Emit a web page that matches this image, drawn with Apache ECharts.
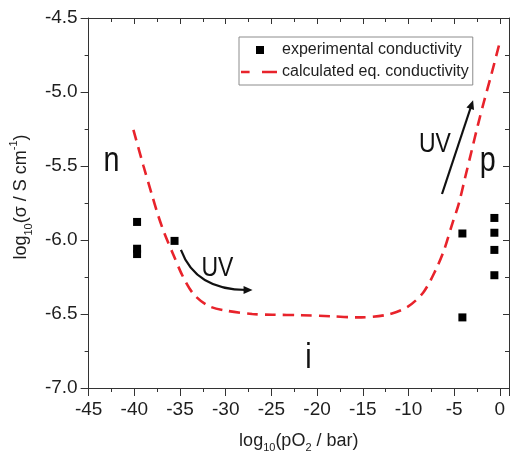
<!DOCTYPE html>
<html>
<head>
<meta charset="utf-8">
<script src="https://cdn.jsdelivr.net/npm/echarts@6/dist/echarts.min.js"></script>
<style>
  html, body { margin: 0; padding: 0; background: #fff; }
  #chart { width: 512px; height: 458px; }
</style>
</head>
<body>
<div id="chart"></div>
<script>
// Axis ranges and ticks
const xMin = -45, xMax = 1, xStep = 5;
const yMin = -7, yMax = -4.5, yStep = 0.5;

// Measured conductivity: log10(pO2 / bar) and log10(sigma / S cm^-1)
const expX = [-39.7, -39.7, -39.7, -35.6, -4.1, -4.1, -0.6, -0.6, -0.6, -0.6];
const expY = [-5.878, -6.059, -6.095, -6.006, -5.956, -6.523, -5.851, -5.951, -6.067, -6.238];

// Calculated equilibrium conductivity
const calcX = [-40.1, -39.0, -38.1, -37.4, -36.7, -35.8, -34.7, -33.5, -31.9, -29.9, -27.1, -24.9,
               -21.7, -18.5, -15.6, -12.5, -10.2, -8.4, -7.0, -6.1, -5.2, -4.5, -3.8, -3.1,
               -2.4, -1.7, -0.96, -0.07];
const calcY = [-5.256, -5.50, -5.689, -5.833, -5.956, -6.089, -6.245, -6.367, -6.445, -6.478, -6.50, -6.505,
               -6.508, -6.515, -6.523, -6.507, -6.456, -6.356, -6.2, -6.067, -5.889, -5.756, -5.578, -5.4,
               -5.222, -5.056, -4.889, -4.678];

const seriesNames = ['experimental conductivity', 'calculated eq. conductivity'];

// Region labels (n, i, p) and UV arrows, in data coordinates
const regionLabels = [
  { text: 'n', x: -42.5, y: -5.47, size: 35 },
  { text: 'p', x: -1.32, y: -5.47, size: 35 },
  { text: 'i', x: -20.95, y: -6.80, size: 35 },
  { text: 'UV', x: -30.9, y: -6.19, size: 28 },
  { text: 'UV', x: -7.11, y: -5.355, size: 28 }
];
// curved arrow: start, control, end
const uvCurve = [[-34.9, -6.067], [-33.28, -6.338], [-27.06, -6.338]];
// straight arrow: start, end
const uvLine = [[-6.33, -5.689], [-2.93, -5.056]];

const FONT = "'Liberation Sans', Arial, sans-serif";
const INK = '#1e1e1e';
const AXIS = '#333';
const RED = '#e8232b';

// legend glyphs: a small square and a two-dash stroke inside a 36x9 box
const ICON_SQUARE = 'path://M0,0L0.001,0M36,9L35.999,9M15,0.5h8v8h-8z';
const ICON_DASH = 'path://M0,0L0.001,0M36,9L35.999,9M0,3.25h8.6v2.6H0zM21,3.25h15v2.6H21z';

const chart = echarts.init(document.getElementById('chart'), null, { renderer: 'canvas' });

const baseX = {
  type: 'value', min: xMin, max: xMax, interval: xStep,
  splitLine: { show: false },
  axisLine: { show: true, onZero: false, lineStyle: { color: AXIS, width: 1 } },
  minorTick: { show: true, splitNumber: 2, length: 4, lineStyle: { color: AXIS } }
};
const baseY = {
  type: 'value', min: yMin, max: yMax, interval: yStep,
  splitLine: { show: false },
  axisLine: { show: true, onZero: false, lineStyle: { color: AXIS, width: 1 } },
  minorTick: { show: true, splitNumber: 2, length: 4, lineStyle: { color: AXIS } }
};

const option = {
  animation: false,
  backgroundColor: '#fff',
  grid: { left: 83, right: 1, top: 18, bottom: 65 },
  xAxis: [
    Object.assign({}, baseX, {
      position: 'bottom',
      axisTick: { show: true, length: 8, lineStyle: { color: AXIS } },
      axisLabel: {
        show: true, margin: 12, color: INK, fontFamily: FONT, fontSize: 19,
        formatter: v => (Math.abs(v % xStep) < 1e-9 ? String(v) : '')
      },
      name: '{m|log}{s|10}{m|(pO}{s|2}{m| / bar)}',
      nameLocation: 'middle', nameGap: 41,
      nameTextStyle: {
        rich: {
          m: { fontFamily: FONT, fontSize: 18, color: INK, lineHeight: 24, verticalAlign: 'middle' },
          s: { fontFamily: FONT, fontSize: 11, color: INK, lineHeight: 24, verticalAlign: 'bottom' }
        }
      }
    }),
    Object.assign({}, baseX, {
      position: 'top',
      axisTick: { show: true, inside: true, length: 6, lineStyle: { color: AXIS } },
      axisLabel: { show: false }
    })
  ],
  yAxis: [
    Object.assign({}, baseY, {
      position: 'left',
      axisTick: { show: true, length: 8, lineStyle: { color: AXIS } },
      axisLabel: {
        show: true, margin: 11, color: INK, fontFamily: FONT, fontSize: 19,
        formatter: v => v.toFixed(1)
      },
      name: '{m|log}{s|10}{m|(σ / S cm}{u|-1}{m|)}',
      nameLocation: 'middle', nameGap: 50, nameRotate: 90,
      nameTextStyle: {
        padding: [0, 0, 0, 12],
        rich: {
          m: { fontFamily: FONT, fontSize: 18, color: INK, lineHeight: 26, verticalAlign: 'middle' },
          s: { fontFamily: FONT, fontSize: 11, color: INK, lineHeight: 26, verticalAlign: 'bottom' },
          u: { fontFamily: FONT, fontSize: 11, color: INK, lineHeight: 26, verticalAlign: 'top' }
        }
      }
    }),
    Object.assign({}, baseY, {
      position: 'right',
      axisTick: { show: true, inside: true, length: 6, lineStyle: { color: AXIS } },
      axisLabel: { show: false }
    })
  ],
  legend: {
    orient: 'vertical',
    left: 239, top: 37,
    padding: [5, 4, 5, 2],
    itemGap: 6,
    itemWidth: 36, itemHeight: 9,
    borderColor: '#8c8c8c', borderWidth: 1,
    backgroundColor: '#fff',
    textStyle: { fontFamily: FONT, fontSize: 16, color: INK },
    data: [
      { name: seriesNames[0], icon: ICON_SQUARE, itemStyle: { color: '#000', opacity: 1 } },
      { name: seriesNames[1], icon: ICON_DASH, itemStyle: { color: RED, opacity: 1 } }
    ]
  },
  series: [
    {
      name: seriesNames[0],
      type: 'scatter',
      symbol: 'rect', symbolSize: 8,
      itemStyle: { color: '#000', opacity: 1 },
      z: 3,
      data: expX.map((x, i) => [x, expY[i]])
    },
    {
      name: seriesNames[1],
      type: 'line',
      showSymbol: false, symbol: 'none',
      smooth: 0.3,
      lineStyle: { color: RED, width: 2.6, type: [11, 7] },
      itemStyle: { color: RED },
      z: 2,
      data: calcX.map((x, i) => [x, calcY[i]])
    }
  ]
};

chart.setOption(option);

// Annotations placed through the axes' own scales
function toPx(p) { return chart.convertToPixel({ xAxisIndex: 0, yAxisIndex: 0 }, p); }

function arrowHead(tip, from, len, half) {
  const dx = tip[0] - from[0], dy = tip[1] - from[1];
  const d = Math.hypot(dx, dy) || 1;
  const ux = dx / d, uy = dy / d;
  const bx = tip[0] - ux * len, by = tip[1] - uy * len;
  return [tip, [bx - uy * half, by + ux * half], [bx + uy * half, by - ux * half]];
}

const g = [];
regionLabels.forEach(l => {
  const p = toPx([l.x, l.y]);
  // condensed lettering: regular face squeezed horizontally
  g.push({
    type: 'text', x: p[0], y: p[1], scaleX: 0.82, scaleY: 1, originX: 0, originY: 0, z: 10,
    style: { text: l.text, fontFamily: FONT, fontSize: l.size, fill: '#111', align: 'center', verticalAlign: 'middle' }
  });
});

const c0 = toPx(uvCurve[0]), c1 = toPx(uvCurve[1]), c2 = toPx(uvCurve[2]);
g.push({
  type: 'bezierCurve', z: 10,
  shape: { x1: c0[0], y1: c0[1], cpx1: c1[0], cpy1: c1[1], x2: c2[0] - 6, y2: c2[1] },
  style: { stroke: '#111', lineWidth: 2.2, fill: null }
});
g.push({ type: 'polygon', z: 10, shape: { points: arrowHead(c2, c1, 9, 4) }, style: { fill: '#111' } });

const s0 = toPx(uvLine[0]), s1 = toPx(uvLine[1]);
const sd = Math.hypot(s1[0] - s0[0], s1[1] - s0[1]);
g.push({
  type: 'line', z: 10,
  shape: { x1: s0[0], y1: s0[1], x2: s1[0] - (s1[0] - s0[0]) / sd * 6, y2: s1[1] - (s1[1] - s0[1]) / sd * 6 },
  style: { stroke: '#111', lineWidth: 2.2 }
});
g.push({ type: 'polygon', z: 10, shape: { points: arrowHead(s1, s0, 9, 4) }, style: { fill: '#111' } });

chart.setOption({ graphic: g });
</script>
</body>
</html>
